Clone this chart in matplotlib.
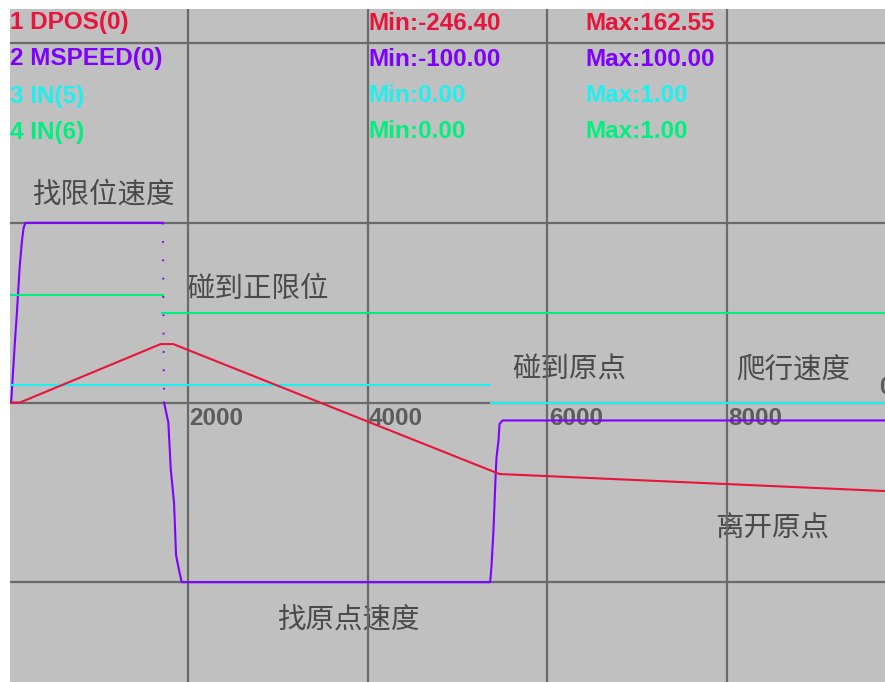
import matplotlib
matplotlib.use("Agg")
import matplotlib.pyplot as plt
import matplotlib.transforms as mtransforms

# channel 1: DPOS(0) - position trace
dpos_t = [0, 130, 1696, 1836, 5467, 9760]
dpos_v = [0, 0, 162.55, 162.55, -199, -246.4]

# channel 2: MSPEED(0) - speed trace (jump between index 8 and 9 drawn dotted)
speed_t = [20, 33, 70, 97, 126, 152, 170, 189, 1720,
           1733, 1781, 1808, 1845, 1867, 1903, 1930,
           5363, 5378, 5400, 5422, 5433, 5456, 5467, 5500, 9760]
speed_v = [0, 1, 31, 51, 75, 90, 97, 100, 100,
           0, -11, -37, -56, -85, -94, -100,
           -100, -91, -71, -43, -31, -21, -12, -10, -10]
speed_jump = 8

# channel 3 / 4: digital inputs, drawn as levels without vertical edges
in5_start = [19, 5361]
in5_end = [5369, 9760]
in5_val = [1, 0]

in6_start = [19, 1700]
in6_end = [1733, 9760]
in6_val = [1, 0]

names = ["1 DPOS(0)", "2 MSPEED(0)", "3 IN(5)", "4 IN(6)"]
mins = ["-246.40", "-100.00", "0.00", "0.00"]
maxs = ["162.55", "100.00", "1.00", "1.00"]
colors = ["#e8143c", "#8000ff", "#1ef0f0", "#00f080"]
per_div = [500, 100, 10, 10]
offset = [0, 0, 0, 0.5]

xticks = [2000, 4000, 6000, 8000]
xtick_labels = ["2000", "4000", "6000", "8000"]


def tx(px):
    # pixel column -> time
    return (px - 8.3) * 2000 / 179.7


def dy(py):
    # pixel row -> divisions
    return (402.5 - py) / 179.7


def main():
    plt.rcParams['font.family'] = ['Noto Sans CJK SC', 'DejaVu Sans']

    fig = plt.figure(figsize=(8.85, 6.82), dpi=100)
    fig.patch.set_facecolor('white')
    ax = fig.add_axes([10 / 885, 0, 875 / 885, (682 - 9.3) / 682])
    ax.set_facecolor('#c0c0c0')
    ax.set_xlim(tx(10), tx(885))
    ax.set_ylim(dy(682), dy(9.3))
    for s in ax.spines.values():
        s.set_visible(False)
    ax.set_xticks([])
    ax.set_yticks([])

    # grid
    for x in xticks:
        ax.axvline(x, color='#6a6a6a', lw=1.6, zorder=2)
    for y in [-1, 0, 1, 2]:
        ax.axhline(y, color='#6a6a6a', lw=1.6, zorder=2)

    # tick labels on the zero line
    off = mtransforms.offset_copy(ax.transData, fig=fig, x=1, y=-11.5, units='points')
    for x, lab in zip(xticks, xtick_labels):
        ax.text(x, 0, lab, transform=off, ha='left', va='center',
                family='Liberation Sans', weight='bold', fontsize=17.5,
                color='#5c5c5c', zorder=1)
    ax.text(tx(879), dy(387), "0", ha='left', va='center',
            family='Liberation Sans', weight='bold', fontsize=17,
            color='#5c5c5c', zorder=1, clip_on=True)

    # traces
    sp = [v / per_div[1] + offset[1] for v in speed_v]
    k = speed_jump
    ax.plot(speed_t[:k + 1], sp[:k + 1], color=colors[1], lw=1.5, zorder=3)
    ax.plot(speed_t[k:k + 2], sp[k:k + 2], color=colors[1], lw=1.5,
            ls=(0, (0.8, 8.0)), zorder=3)
    ax.plot(speed_t[k + 1:], sp[k + 1:], color=colors[1], lw=1.5, zorder=3)

    ax.hlines([v / per_div[3] + offset[3] for v in in6_val], in6_start, in6_end,
              color=colors[3], lw=1.5, zorder=3)
    ax.hlines([v / per_div[2] + offset[2] for v in in5_val], in5_start, in5_end,
              color=colors[2], lw=1.5, zorder=3)

    ax.plot(dpos_t, [v / per_div[0] + offset[0] for v in dpos_v],
            color=colors[0], lw=1.5, zorder=4)

    # channel header
    rows = [23, 59, 96, 132]
    for i in range(4):
        kw = dict(ha='left', va='center', family='Liberation Sans',
                  weight='bold', fontsize=17.5, color=colors[i], zorder=1)
        ax.text(tx(10), dy(rows[i]), names[i], **kw)
        ax.text(tx(368), dy(rows[i]), "Min:" + mins[i], **kw)
        ax.text(tx(585), dy(rows[i]), "Max:" + maxs[i], **kw)

    # notes
    notes = [("找限位速度", 32, 195), ("碰到正限位", 186, 289),
             ("碰到原点", 512, 370), ("爬行速度", 736, 370),
             ("离开原点", 715, 529), ("找原点速度", 277, 621)]
    for txt, px, py in notes:
        ax.text(tx(px), dy(py), txt, ha='left', va='center', fontsize=20.5,
                color='#4a4a4a', zorder=1)

    fig.savefig('out.png', dpi=100)


if __name__ == "__main__":
    main()
